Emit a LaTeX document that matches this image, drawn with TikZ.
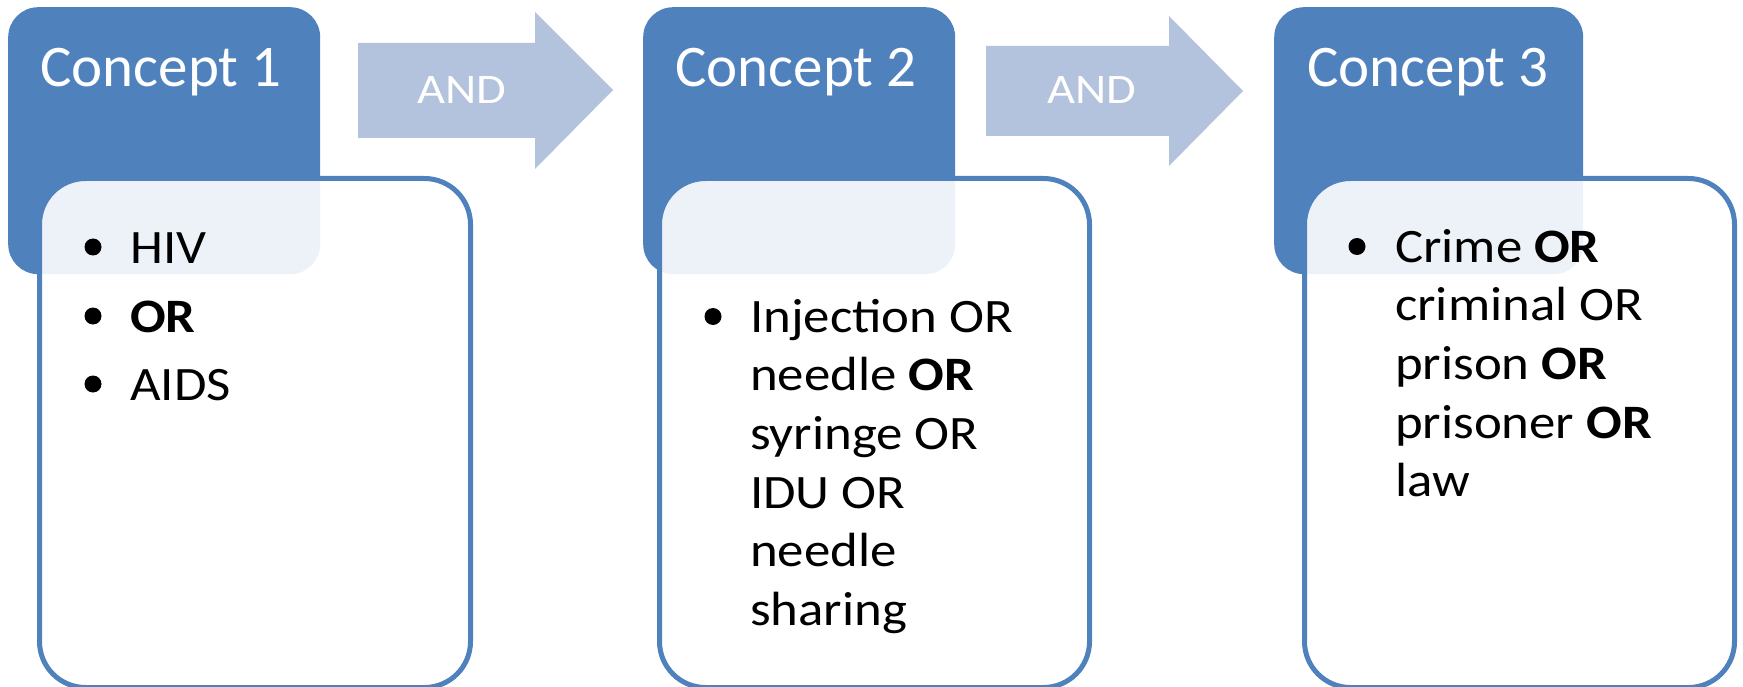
\documentclass[tikz,border=0pt]{standalone}
\usepackage{fontspec}
\setmainfont{Carlito}
\newfontfamily\termfont[FakeStretch=1.1]{Carlito}
\newfontfamily\andfont[FakeStretch=1.15]{Carlito}
\definecolor{accent}{RGB}{79,129,189}
\definecolor{arrowblue}{RGB}{179,194,221}
\begin{document}
\begin{tikzpicture}[x=1pt,y=-1pt,
  conceptbox/.style={rectangle, fill=accent, rounded corners=30pt,
    minimum width=312pt, minimum height=267pt, inner sep=0pt, anchor=north west},
  termbox/.style={rectangle, draw=accent, line width=5pt, fill=white, fill opacity=0.9,
    rounded corners=46pt, minimum width=431pt, minimum height=509pt,
    inner sep=0pt, anchor=north west},
  title/.style={text=white, inner sep=0pt, anchor=base west,
    font=\fontsize{59}{70}\selectfont},
  andlabel/.style={text=white, inner sep=0pt, anchor=base,
    font=\andfont\fontsize{42}{50}\selectfont},
  term/.style={text=black, inner sep=0pt, anchor=base west, align=left,
    font=\termfont\fontsize{48}{58.7}\selectfont},
  dot/.style={circle, fill=black, minimum size=17pt, inner sep=0pt},
  andarrow/.style={fill=arrowblue}]
\useasboundingbox (0,0) rectangle (1743,687);

% concept headers
\node[conceptbox] (c1) at (8,7) {};
\node[conceptbox] (c2) at (643,7) {};
\node[conceptbox, minimum width=309pt] (c3) at (1274,7) {};

% term panels overlapping the headers
\node[termbox] (p1) at (37,176) {};
\node[termbox, minimum width=430pt] (p2) at (657,176) {};
\node[termbox, minimum width=430pt] (p3) at (1302,176) {};

\node[title] (t1) at (40,87) {Concept 1};
\node[title] (t2) at (675,87) {Concept 2};
\node[title] (t3) at (1307,87) {Concept 3};

% AND block arrows
\fill[andarrow] (358,43) -- (535,43) -- (535,12) -- (613,90) -- (535,169)
  -- (535,138) -- (358,138) -- cycle;
\node[andlabel] (and1) at (462,104) {AND};
\fill[andarrow] (986,46) -- (1169,46) -- (1169,16) -- (1243,91) -- (1169,166)
  -- (1169,136) -- (986,136) -- cycle;
\node[andlabel] (and2) at (1092,104) {AND};

% concept 1 terms
\node[dot] (b11) at (93,247) {};
\node[term] (hiv) at (130,263) {HIV};
\node[dot] (b12) at (93,316) {};
\node[term] (or1) at (130,332) {\textbf{OR}};
\node[dot] (b13) at (93,384) {};
\node[term] (aids) at (130,400) {AIDS};

% concept 2 terms (base anchor sits on the last line)
\node[dot] (b21) at (713,316.5) {};
\node[term] (terms2) at (750,625.5) {Injection OR\\needle \textbf{OR}\\syringe OR\\IDU OR\\needle\\sharing};

% concept 3 terms (base anchor sits on the last line)
\node[dot] (b31) at (1357,246.5) {};
\node[term] (terms3) at (1395,496.8) {Crime \textbf{OR}\\criminal OR\\prison \textbf{OR}\\prisoner \textbf{OR}\\law};
\end{tikzpicture}
\end{document}
